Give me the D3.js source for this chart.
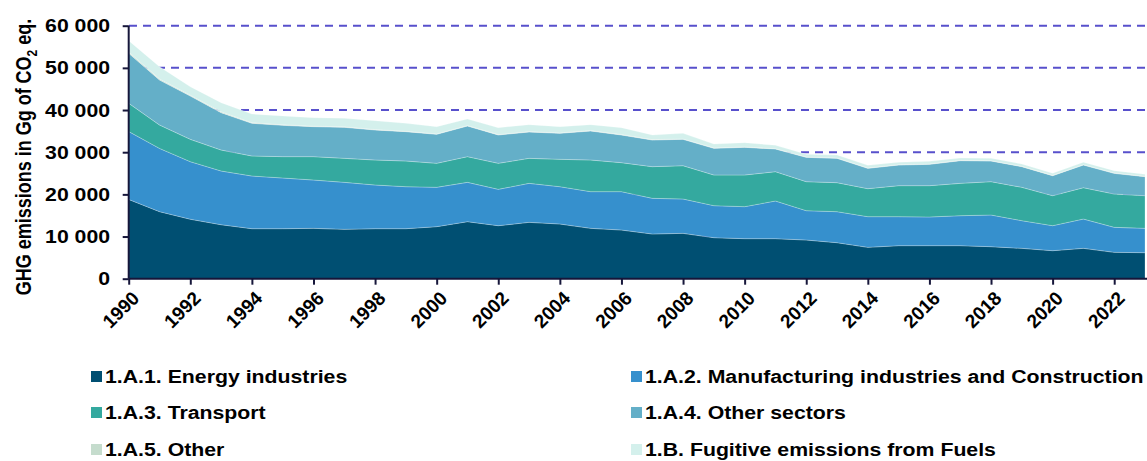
<!DOCTYPE html>
<html>
<head>
<meta charset="utf-8">
<script src="https://cdn.jsdelivr.net/npm/d3@7"></script>
<style>
  html, body { margin: 0; padding: 0; background: #ffffff; }
  svg { display: block; }
  text { font-family: "Liberation Sans", Arial, sans-serif; font-weight: bold; fill: #000; }
</style>
</head>
<body>
<svg id="chart" width="1147" height="461"></svg>
<script>
const years = d3.range(1990, 2024);
const energyIndustries = [18800,15900,14100,12800,11860,11860,11940,11700,11860,11860,12340,13520,12570,13360,12970,11940,11540,10600,10750,9730,9490,9490,9170,8540,7430,7830,7830,7830,7590,7200,6640,7200,6250,6170];
const manufacturing    = [16100,15000,13650,12740,12490,12020,11460,11150,10360,9960,9330,9330,8620,9250,8850,8700,9100,8460,8150,7590,7590,8930,6960,7350,7280,6880,6800,7110,7510,6560,5930,6950,5930,5770];
const transport        = [6700,5550,5300,4980,4750,5060,5540,5690,5930,6090,5690,6090,6170,5930,6490,7510,6880,7510,7900,7270,7510,6960,6880,6880,6640,7350,7430,7670,7910,7910,7120,7430,7900,7750];
const otherSectors     = [11850,10680,10280,8860,7750,7430,7120,7360,7120,6960,6880,7270,6720,6250,6170,6880,6560,6320,6250,6330,6560,5380,5770,5770,4820,4900,5060,5380,4900,4900,4740,5380,4900,4510];
const otherA5          = [300,250,200,200,150,150,120,120,100,100,100,100,100,100,100,100,100,100,100,100,100,80,80,80,80,80,80,80,80,80,80,80,80,80];
const fugitive         = [2700,2900,2000,2170,2060,2070,2010,2010,2110,1880,1720,1560,1640,1640,1480,1400,1640,1090,1320,920,1010,790,630,710,630,560,630,550,550,550,470,560,560,470];

const seriesKeys  = ["e", "m", "t", "o", "a5", "f"];
const seriesNames = ["1.A.1. Energy industries", "1.A.2. Manufacturing industries and Construction", "1.A.3. Transport", "1.A.4. Other sectors", "1.A.5. Other", "1.B. Fugitive emissions from Fuels"];
const seriesColors = ["#004f72", "#3690cd", "#34a99f", "#64afc8", "#c5dccd", "#d4f0ec"];
const yTicks = [0, 10000, 20000, 30000, 40000, 50000, 60000];
const xTicks = d3.range(1990, 2023, 2);

const rows = years.map((y, i) => ({
  year: y, e: energyIndustries[i], m: manufacturing[i], t: transport[i],
  o: otherSectors[i], a5: otherA5[i], f: fugitive[i]
}));

const svg = d3.select("#chart");
const SX = 1.18; // horizontal text stretch seen in the reference
const x = d3.scaleLinear().domain([1990, 2023]).range([128.7, 1145]);
const y = d3.scaleLinear().domain([0, 60000]).range([278.7, 25.7]);

// gridlines
svg.append("g").selectAll("line").data(yTicks.filter(v => v > 0)).join("line")
  .attr("x1", 129).attr("x2", 1147)
  .attr("y1", d => y(d)).attr("y2", d => y(d))
  .attr("stroke", "#5850cc").attr("stroke-width", 2)
  .attr("stroke-dasharray", "8,6");

// stacked areas
const stack = d3.stack().keys(seriesKeys);
const stacked = stack(rows);
const area = d3.area()
  .x(d => x(d.data.year))
  .y0(d => y(d[0]))
  .y1(d => y(d[1]));
svg.append("g").selectAll("path").data(stacked).join("path")
  .attr("d", area)
  .attr("fill", (d, i) => seriesColors[i])
  .attr("stroke", "#ffffff").attr("stroke-opacity", 0.3).attr("stroke-width", 0.8);

// y axis
const yAxis = d3.axisLeft(y).tickValues(yTicks).tickSize(6).tickPadding(0).tickFormat(() => "");
const yg = svg.append("g").attr("transform", "translate(128.7,0)").call(yAxis);
yg.selectAll("path, line").attr("stroke", "#16163a").attr("stroke-width", 2);
yg.select(".domain").attr("d", `M0,${y(60000)}V${y(0)}`);
svg.append("g").selectAll("text").data(yTicks).join("text")
  .attr("transform", d => `translate(110,${y(d)}) scale(${SX},1)`)
  .attr("dy", "0.36em").attr("text-anchor", "end")
  .style("font-size", "18px")
  .text(d => d3.format(",")(d).replace(/,/g, " "));

// x axis
const xAxis = d3.axisBottom(x).tickValues(xTicks).tickSize(6).tickFormat(() => "");
const xg = svg.append("g").attr("transform", `translate(0,${y(0)})`).call(xAxis);
xg.selectAll("path, line").attr("stroke", "#16163a").attr("stroke-width", 2);
xg.select(".domain").attr("d", `M${x(1990)},0H1147`);
svg.append("g").selectAll("text").data(xTicks).join("text")
  .attr("transform", d => `translate(${x(d) + 7},${y(0) + 16}) rotate(-45)`)
  .attr("text-anchor", "end").attr("dy", "0.35em")
  .style("font-size", "19px")
  .text(d => d);

// y title
const title = svg.append("text")
  .attr("transform", `translate(24,157) scale(${SX},1) rotate(-90)`)
  .attr("text-anchor", "middle").attr("dy", "0.35em")
  .style("font-size", "18px");
title.append("tspan").text("GHG emissions in Gg of CO");
title.append("tspan").text("2").style("font-size", "12px").attr("dy", "5");
title.append("tspan").text(" eq.").attr("dy", "-5");

// legend
const legendPos = [[91, 376], [631, 376], [91, 412], [631, 412], [91, 449], [631, 449]];
const lg = svg.append("g").selectAll("g").data(seriesNames).join("g")
  .attr("transform", (d, i) => `translate(${legendPos[i][0]},${legendPos[i][1]})`);
lg.append("rect").attr("x", 0).attr("y", -5).attr("width", 11).attr("height", 11)
  .attr("fill", (d, i) => seriesColors[i]);
lg.append("text")
  .attr("transform", `translate(14,0) scale(1.12,1)`)
  .attr("dy", "0.36em")
  .style("font-size", "19px")
  .text(d => d);
</script>
</body>
</html>
